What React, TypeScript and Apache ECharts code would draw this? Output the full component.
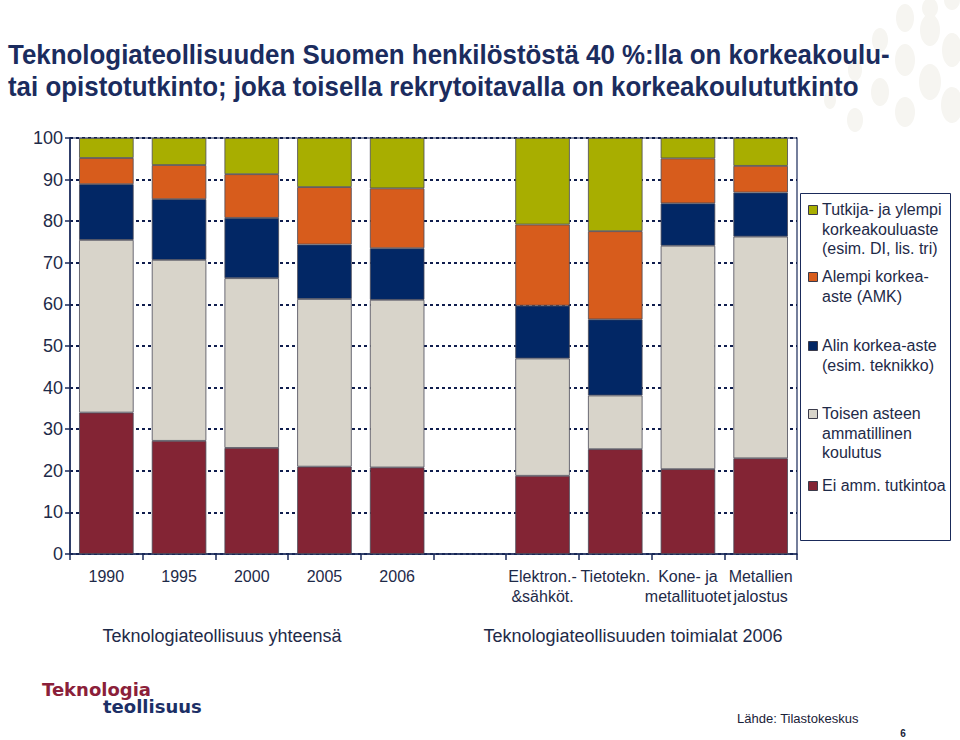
import React, { useEffect, useRef } from "react";
import * as echarts from "echarts";

const categories = [
  "1990",
  "1995",
  "2000",
  "2005",
  "2006",
  "",
  "Elektron.-\n&sähköt.",
  "Tietotekn.",
  "Kone- ja\nmetallituotet",
  "Metallien\njalostus",
];
const eiAmm = [34.0, 27.2, 25.5, 21.0, 20.8, null, 18.8, 25.2, 20.4, 23.0];
const toisenAsteen = [41.5, 43.5, 40.8, 40.3, 40.3, null, 28.2, 12.9, 53.7, 53.3];
const alinKorkea = [13.4, 14.6, 14.5, 13.1, 12.4, null, 12.7, 18.3, 10.2, 10.6];
const alempiKorkea = [6.3, 8.2, 10.5, 13.8, 14.4, null, 19.5, 21.2, 10.8, 6.4];
const tutkijaYlempi = [4.8, 6.5, 8.7, 11.8, 12.1, null, 20.8, 22.4, 4.9, 6.7];

const seriesNames = [
  "Ei amm. tutkintoa",
  "Toisen asteen ammatillinen koulutus",
  "Alin korkea-aste (esim. teknikko)",
  "Alempi korkea-aste (AMK)",
  "Tutkija- ja ylempi korkeakouluaste (esim. DI, lis. tri)",
];
const seriesValues = [eiAmm, toisenAsteen, alinKorkea, alempiKorkea, tutkijaYlempi];
const seriesColors = ["#832434", "#d8d4ca", "#022765", "#d75c1c", "#a8ae00"];

// legend (top to bottom), with its own line breaks
const legendLabels = [
  "Tutkija- ja ylempi\nkorkeakouluaste\n(esim. DI, lis. tri)",
  "Alempi korkea-\naste (AMK)",
  "Alin korkea-aste\n(esim. teknikko)",
  "Toisen asteen\nammatillinen\nkoulutus",
  "Ei amm. tutkintoa",
];
const legendColors = ["#a8ae00", "#d75c1c", "#022765", "#d8d4ca", "#832434"];

const titleLines = [
  "Teknologiateollisuuden Suomen henkilöstöstä 40 %:lla on korkeakoulu-",
  "tai opistotutkinto; joka toisella rekrytoitavalla on korkeakoulututkinto",
];
const groupLabels = ["Teknologiateollisuus yhteensä", "Teknologiateollisuuden toimialat 2006"];
const sourceText = "Lähde: Tilastokeskus";
const pageNumber = "6";
const logoLines = ["Teknologia", "teollisuus"];

const NAVY = "#1a2a5a";
const TEXT = "#1e2a48";
const FONT = "'Liberation Sans', Arial, sans-serif";

export default function App() {
  const ref = useRef<HTMLDivElement>(null);
  useEffect(() => {
    if (!ref.current) return;
    const chart = echarts.init(ref.current, null, { renderer: "svg" });

    const legendTops = [210, 277, 346, 414, 486];
    const legendGraphics: any[] = [
      {
        type: "rect",
        shape: { x: 800.5, y: 193.5, width: 150, height: 347 },
        style: { fill: "#ffffff", stroke: NAVY, lineWidth: 1 },
        z: 1,
      },
    ];
    legendLabels.forEach((lab, i) => {
      legendGraphics.push({
        type: "rect",
        shape: { x: 808.5, y: legendTops[i] - 4.5, width: 9, height: 9 },
        style: { fill: legendColors[i], stroke: "#3a3a4a", lineWidth: 1 },
        z: 2,
      });
      legendGraphics.push({
        type: "text",
        x: 822,
        y: legendTops[i] - 10,
        style: {
          text: lab,
          fill: TEXT,
          font: `16px ${FONT}`,
          lineHeight: 19.5,
          verticalAlign: "top",
          align: "left",
        },
        z: 2,
      });
    });

    // faint decorative dots (top-right)
    const dots: any[] = [];
    const dotSpecs = [
      [905, 18, 9, 14], [930, 30, 10, 16], [952, 50, 10, 17], [880, 40, 8, 12],
      [905, 60, 10, 16], [930, 82, 11, 18], [855, 70, 7, 11], [880, 92, 9, 14],
      [952, 105, 11, 18], [905, 112, 10, 15], [830, 100, 6, 9], [855, 120, 8, 12],
      [930, 8, 8, 10], [952, 0, 8, 10],
    ];
    dotSpecs.forEach(([cx, cy, rx, ry]) =>
      dots.push({
        type: "ellipse",
        shape: { cx, cy, rx, ry },
        style: { fill: "#f6f5f1" },
        z: -10,
        silent: true,
      })
    );

    const titleGraphics = titleLines.map((t, i) => ({
      type: "text",
      x: 8,
      y: 55 + i * 32,
      scaleX: 0.925,
      style: {
        text: t,
        fill: "#1b2c5e",
        font: `bold 28px ${FONT}`,
        align: "left",
        verticalAlign: "middle",
      },
    }));

    chart.setOption({
      animation: false,
      backgroundColor: "#ffffff",
      textStyle: { fontFamily: FONT },
      grid: {
        left: 70,
        right: 163,
        top: 138,
        bottom: 186,
        show: true,
        borderColor: NAVY,
        borderWidth: 1.2,
        backgroundColor: "transparent",
      },
      xAxis: {
        type: "category",
        data: categories,
        axisLine: { lineStyle: { color: NAVY, width: 1.5 } },
        axisTick: { show: true, alignWithLabel: false, interval: 0, length: 6, lineStyle: { color: NAVY, width: 1.5 }, inside: false },
        axisLabel: {
          interval: 0,
          color: TEXT,
          fontSize: 16,
          lineHeight: 20,
          margin: 12,
          fontFamily: FONT,
        },
      },
      yAxis: {
        type: "value",
        min: 0,
        max: 100,
        interval: 10,
        axisLine: { show: true, lineStyle: { color: NAVY, width: 1.5 } },
        axisTick: { show: true, length: 5, lineStyle: { color: NAVY, width: 1.5 } },
        axisLabel: { color: TEXT, fontSize: 18, margin: 7, fontFamily: FONT },
        splitLine: {
          show: true,
          lineStyle: { color: "#0f1d4d", width: 2, type: [3, 3] },
        },
      },
      series: seriesNames.map((name, i) => ({
        name,
        type: "bar",
        stack: "total",
        data: seriesValues[i],
        barWidth: "75%",
        itemStyle: {
          color: seriesColors[i],
          borderColor: "#4a4a58",
          borderWidth: 0.8,
        },
        z: 3,
      })),
      graphic: [
        ...dots,
        ...titleGraphics,
        ...legendGraphics,
        {
          type: "text",
          x: 222,
          y: 636,
          style: { text: groupLabels[0], fill: TEXT, font: `18px ${FONT}`, align: "center", verticalAlign: "middle" },
        },
        {
          type: "text",
          x: 633,
          y: 636,
          style: { text: groupLabels[1], fill: TEXT, font: `18px ${FONT}`, align: "center", verticalAlign: "middle" },
        },
        {
          type: "text",
          x: 42,
          y: 689,
          style: { text: logoLines[0], fill: "#8b1f3a", font: `bold 18px 'DejaVu Sans', sans-serif`, align: "left", verticalAlign: "middle" },
        },
        {
          type: "text",
          x: 103,
          y: 706,
          style: { text: logoLines[1], fill: "#1c2f66", font: `bold 18px 'DejaVu Sans', sans-serif`, align: "left", verticalAlign: "middle" },
        },
        {
          type: "text",
          x: 737,
          y: 718,
          style: { text: sourceText, fill: "#1a2238", font: `13px ${FONT}`, align: "left", verticalAlign: "middle" },
        },
        {
          type: "text",
          x: 903,
          y: 733,
          style: { text: pageNumber, fill: "#1a2238", font: `bold 10px ${FONT}`, align: "center", verticalAlign: "middle" },
        },
      ],
    });
    return () => chart.dispose();
  }, []);
  return (
    <div
      ref={ref}
      style={{ position: "absolute", left: 0, top: 0, width: 960, height: 740 }}
    />
  );
}
